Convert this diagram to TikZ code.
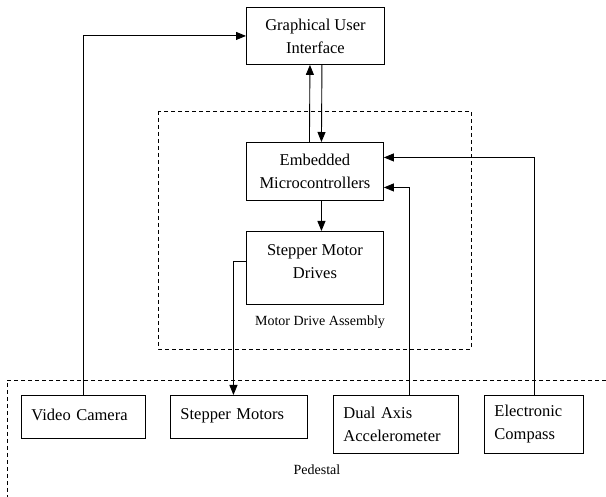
\documentclass[tikz,border=0pt]{standalone}
\usepackage{fontspec}
\setmainfont{Liberation Serif}
\usetikzlibrary{arrows.meta}
\begin{document}
\begin{tikzpicture}[x=1pt,y=-1pt,
  box/.style={draw, line width=0.9pt, rectangle, inner sep=0pt,
    font=\fontsize{16.5}{23}\selectfont},
  centerbox/.style={box, align=center},
  leftbox/.style={box, align=left, inner xsep=10pt},
  group/.style={draw, line width=0.8pt, dash pattern=on 4pt off 3pt},
  grouplabel/.style={font=\fontsize{14}{16}\selectfont, inner sep=0pt},
  link/.style={line width=0.9pt},
  arr/.style={link, -{Triangle[length=10pt,width=8pt]}}]
\useasboundingbox (0,0) rectangle (606,497);

% groups
\draw[group] (158,111) rectangle (471,349);
\node[grouplabel] (mdalabel) at (320,322) {Motor Drive Assembly};
\draw[group] (606,380) -- (7,380) -- (7,497);
\node[grouplabel] (pedlabel) at (317,470) {Pedestal};

% upper blocks
\node[centerbox, minimum width=138, minimum height=57, anchor=north west]
  (gui) at (246,7) {Graphical User\\Interface};
\node[centerbox, minimum width=137, minimum height=58, anchor=north west]
  (emb) at (246,142) {Embedded\\Microcontrollers};
\node[centerbox, minimum width=137, minimum height=73, anchor=north west,
  text depth=13pt] (smd) at (246,231) {Stepper Motor\\Drives};

% pedestal blocks
\node[leftbox, minimum width=124, minimum height=43, anchor=north west,
  text width=104pt, text depth=5pt] (vc) at (21,395) {Video Camera};
\node[leftbox, minimum width=137, minimum height=43, anchor=north west,
  text width=117pt, text depth=5pt] (sm) at (170,395) {Stepper Motors};
\node[leftbox, minimum width=125, minimum height=58, anchor=north west,
  text width=105pt] (da) at (333,395) {Dual Axis\\Accelerometer};
\node[leftbox, minimum width=99, minimum height=58, anchor=north west,
  text width=79pt] (ec) at (484,395) {Electronic\\Compass};

% connectors
\draw[arr] (vc.north) |- (gui.west);
\draw[arr] ([xshift=-5.5pt]emb.north) -- ([xshift=-5.5pt]gui.south);
\draw[arr] ([xshift=6.5pt]gui.south) -- ([xshift=6.5pt]emb.north);
\draw[arr] ([xshift=6.5pt]emb.south) -- ([xshift=6.5pt]emb.south |- smd.north);
\draw[arr] ([yshift=6.5pt]smd.west) -| ([xshift=-5.5pt]sm.north);
\draw[arr] ([xshift=13.5pt]da.north) |- ([yshift=-16pt]emb.east);
\draw[arr] (ec.north) |- ([yshift=14pt]emb.east);
\end{tikzpicture}
\end{document}
